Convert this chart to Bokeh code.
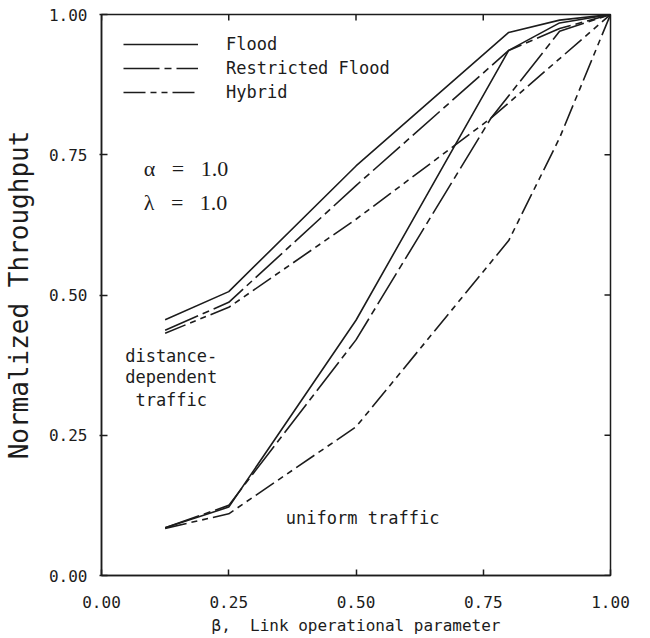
import math
from bokeh.plotting import figure
from bokeh.models import (Range1d, FixedTicker, NumeralTickFormatter,
                          Legend, LegendItem, Label)
from bokeh.embed import file_html
from bokeh.resources import INLINE

# ---- data ----
ticks = [0.0, 0.25, 0.5, 0.75, 1.0]

# distance-dependent traffic
dd_flood_x = [0.125, 0.25, 0.5, 0.8, 0.9, 1.0]
dd_flood_y = [0.456, 0.506, 0.73, 0.968, 0.99, 1.0]
dd_rf_x = [0.125, 0.25, 0.5, 0.8, 0.9, 1.0]
dd_rf_y = [0.437, 0.487, 0.695, 0.936, 0.975, 1.0]
dd_hyb_x = [0.125, 0.25, 0.5, 0.765, 1.0]
dd_hyb_y = [0.432, 0.478, 0.635, 0.815, 1.0]

# uniform traffic
u_flood_x = [0.125, 0.25, 0.5, 0.8, 0.9, 1.0]
u_flood_y = [0.085, 0.122, 0.455, 0.936, 0.985, 1.0]
u_rf_x = [0.125, 0.25, 0.5, 0.765, 0.9, 1.0]
u_rf_y = [0.085, 0.125, 0.42, 0.815, 0.97, 1.0]
u_hyb_x = [0.125, 0.25, 0.5, 0.8, 0.9, 1.0]
u_hyb_y = [0.084, 0.11, 0.265, 0.597, 0.78, 1.0]

series_names = ["Flood", "Restricted Flood", "Hybrid"]

# ---- styling ----
MONO = "DejaVu Sans Mono"
INK = "#1c1c1c"
LW = 1.6
DASH = {"Flood": "solid", "Restricted Flood": "36 5 7 5", "Hybrid": "22 5 6 5 6 5"}
NB = "\u00a0"

p = figure(width=640, height=638, output_backend="svg", toolbar_location=None,
           x_range=Range1d(0, 1), y_range=Range1d(0, 1),
           min_border_left=101, min_border_right=30, min_border_top=14, min_border_bottom=63)
p.background_fill_color = "white"
p.border_fill_color = "white"
p.outline_line_color = INK
p.outline_line_width = 1.5
p.xgrid.visible = False
p.ygrid.visible = False

for ax in (p.xaxis[0], p.yaxis[0]):
    ax.ticker = FixedTicker(ticks=ticks)
    ax.formatter = NumeralTickFormatter(format="0.00")
    ax.minor_tick_line_color = None
    ax.major_tick_in = 6
    ax.major_tick_out = 2
    ax.axis_line_color = INK
    ax.axis_line_width = 1.5
    ax.major_tick_line_color = INK
    ax.major_tick_line_width = 1.5
    ax.major_label_text_font = MONO
    ax.major_label_text_font_size = "16px"
    ax.major_label_text_color = INK
    ax.axis_label_text_font = MONO
    ax.axis_label_text_font_style = "normal"
    ax.axis_label_text_color = INK

p.xaxis[0].major_tick_out = 0
p.xaxis[0].major_label_standoff = 20
p.xaxis[0].axis_label = "β," + NB + NB + "Link operational parameter"
p.xaxis[0].axis_label_text_font_size = "16px"
p.xaxis[0].axis_label_standoff = 5

p.yaxis[0].major_label_standoff = 12
p.yaxis[0].axis_label = "Normalized Throughput"
p.yaxis[0].axis_label_text_font_size = "26px"
p.yaxis[0].axis_label_standoff = 12

# inward tick marks on the top and right frame edges
n = len(ticks)
p.scatter(x=ticks, y=[p.y_range.end] * n, marker="dash", size=12, angle=math.pi / 2,
          line_color=INK, line_width=1.5)
p.scatter(x=[p.x_range.end] * n, y=ticks, marker="dash", size=12, angle=0,
          line_color=INK, line_width=1.5)

# ---- curves ----
dd = {"Flood": (dd_flood_x, dd_flood_y), "Restricted Flood": (dd_rf_x, dd_rf_y),
      "Hybrid": (dd_hyb_x, dd_hyb_y)}
un = {"Flood": (u_flood_x, u_flood_y), "Restricted Flood": (u_rf_x, u_rf_y),
      "Hybrid": (u_hyb_x, u_hyb_y)}

items = []
for name in series_names:
    r1 = p.line(dd[name][0], dd[name][1], line_color=INK, line_width=LW, line_dash=DASH[name])
    r2 = p.line(un[name][0], un[name][1], line_color=INK, line_width=LW, line_dash=DASH[name])
    items.append(LegendItem(label=name, renderers=[r1]))

legend = Legend(items=items, location=(22, 473))
legend.background_fill_alpha = 0
legend.border_line_color = None
legend.padding = 0
legend.margin = 0
legend.spacing = 4
legend.glyph_width = 75
legend.glyph_height = 20
legend.label_height = 20
legend.label_standoff = 28
legend.label_text_font = MONO
legend.label_text_font_size = "17px"
legend.label_text_color = INK
p.add_layout(legend, "center")

# ---- annotations ----
def note(x, y, text, font=MONO, size="17px", align="center"):
    p.add_layout(Label(x=x, y=y, text=text, text_font=font, text_font_size=size,
                       text_align=align, text_baseline="middle", text_color=INK))

note(0.083, 0.725, "α" + NB * 3 + "=" + NB * 3 + "1.0", font="Liberation Serif", size="22px", align="left")
note(0.083, 0.665, "λ" + NB * 3 + "=" + NB * 3 + "1.0", font="Liberation Serif", size="22px", align="left")
note(0.137, 0.392, "distance-")
note(0.137, 0.353, "dependent")
note(0.137, 0.312, "traffic")
note(0.513, 0.103, "uniform traffic")

open("out.html", "w").write(file_html(p, INLINE))
